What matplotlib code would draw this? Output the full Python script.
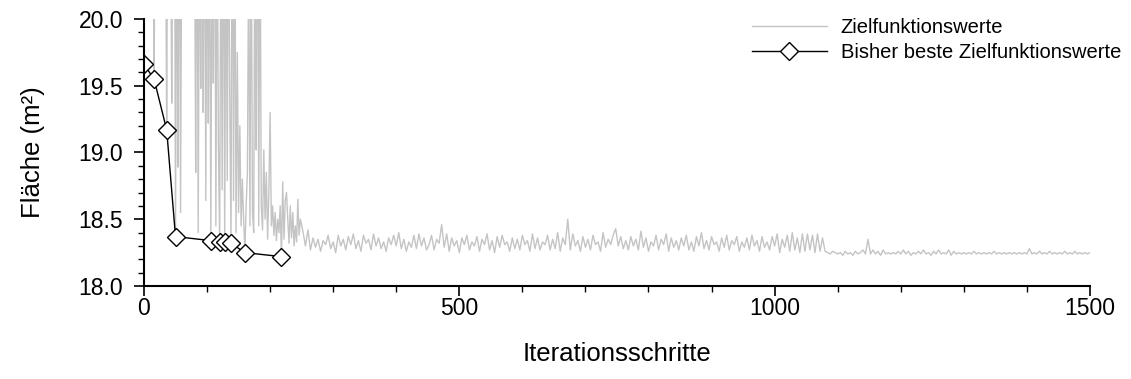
import numpy as np
import matplotlib
matplotlib.use('Agg')
import matplotlib.pyplot as plt
from matplotlib.ticker import MultipleLocator, FormatStrFormatter

plt.rcParams['font.family'] = ['Liberation Sans', 'DejaVu Sans']

# Zielfunktionswerte, iterations 0..248 (every 2nd iteration); values > 20 are clipped in the plot
zf_early = [
    19.66, 21.5, 22.0, 21.0, 22.0, 21.5, 22.0, 21.0, 19.55, 21.0,
    22.0, 21.5, 22.0, 21.0, 22.0, 21.5, 22.0, 21.0, 19.17, 21.5,
    22.0, 21.0, 19.37, 21.0, 22.0, 18.37, 21.0, 18.89, 21.5, 18.55,
    21.0, 22.0, 21.5, 22.0, 21.0, 22.0, 21.5, 22.0, 21.0, 22.0,
    21.0, 18.85, 21.5, 18.40, 21.0, 19.48, 21.0, 19.30, 21.5, 18.64,
    21.0, 19.22, 21.0, 18.34, 21.0, 19.52, 21.5, 18.45, 21.0, 19.07,
    18.33, 21.0, 18.72, 21.5, 18.33, 21.0, 18.79, 21.0, 19.40, 18.32,
    21.5, 18.64, 21.0, 18.40, 19.75, 18.55, 19.20, 18.45, 18.80, 18.50,
    18.25, 18.60, 18.85, 20.50, 18.45, 21.0, 18.55, 18.40, 21.0, 19.02,
    21.5, 18.45, 21.0, 18.60, 18.42, 19.02, 18.50, 18.85, 18.35, 18.70,
    19.30, 18.45, 18.60, 18.38, 18.55, 18.34, 18.50, 18.40, 18.60, 18.22,
    18.78, 18.35, 18.64, 18.70, 18.50, 18.32, 18.60, 18.36, 18.55, 18.30,
    18.45, 18.33, 18.65, 18.38, 18.50,
]

# Zielfunktionswerte, iterations 252..1500 (every 4th iteration)
zf_252_448 = [
    18.41, 18.30, 18.42, 18.27, 18.36, 18.29, 18.35, 18.26, 18.34, 18.31,
    18.38, 18.28, 18.33, 18.25, 18.38, 18.30, 18.35, 18.27, 18.37, 18.31,
    18.39, 18.28, 18.34, 18.26, 18.38, 18.32, 18.35, 18.27, 18.39, 18.30,
    18.36, 18.28, 18.33, 18.26, 18.36, 18.31, 18.38, 18.30, 18.40, 18.28,
    18.35, 18.26, 18.33, 18.29, 18.38, 18.28, 18.39, 18.30, 18.36, 18.27,
]
zf_452_648 = [
    18.31, 18.38, 18.27, 18.35, 18.32, 18.46, 18.29, 18.39, 18.26, 18.36,
    18.30, 18.34, 18.25, 18.36, 18.31, 18.38, 18.27, 18.33, 18.30, 18.37,
    18.26, 18.35, 18.31, 18.39, 18.27, 18.34, 18.25, 18.37, 18.29, 18.38,
    18.31, 18.33, 18.26, 18.36, 18.28, 18.35, 18.27, 18.38, 18.31, 18.34,
    18.26, 18.39, 18.28, 18.36, 18.27, 18.33, 18.31, 18.38, 18.27, 18.35,
]
zf_652_848 = [
    18.28, 18.40, 18.26, 18.36, 18.31, 18.50, 18.27, 18.39, 18.30, 18.34,
    18.26, 18.37, 18.29, 18.35, 18.27, 18.38, 18.31, 18.33, 18.26, 18.40,
    18.29, 18.35, 18.31, 18.38, 18.43, 18.30, 18.37, 18.28, 18.34, 18.27,
    18.37, 18.30, 18.35, 18.27, 18.41, 18.29, 18.36, 18.26, 18.33, 18.30,
    18.38, 18.27, 18.35, 18.31, 18.39, 18.26, 18.36, 18.29, 18.34, 18.27,
]
zf_852_1048 = [
    18.36, 18.30, 18.38, 18.27, 18.33, 18.26, 18.37, 18.30, 18.40, 18.28,
    18.34, 18.27, 18.37, 18.31, 18.33, 18.26, 18.36, 18.29, 18.38, 18.27,
    18.34, 18.31, 18.37, 18.26, 18.33, 18.29, 18.36, 18.27, 18.38, 18.30,
    18.34, 18.26, 18.37, 18.29, 18.33, 18.27, 18.37, 18.30, 18.39, 18.25,
    18.35, 18.29, 18.38, 18.26, 18.40, 18.27, 18.36, 18.25, 18.39, 18.26,
]
zf_1052_1248 = [
    18.39, 18.27, 18.38, 18.25, 18.39, 18.26, 18.36, 18.26, 18.25, 18.24,
    18.26, 18.25, 18.24, 18.25, 18.23, 18.26, 18.24, 18.25, 18.23, 18.26,
    18.24, 18.25, 18.27, 18.24, 18.35, 18.24, 18.27, 18.24, 18.26, 18.23,
    18.27, 18.24, 18.25, 18.24, 18.25, 18.24, 18.26, 18.24, 18.27, 18.24,
    18.26, 18.23, 18.25, 18.24, 18.26, 18.24, 18.27, 18.24, 18.25, 18.23,
]
zf_1252_1500 = [
    18.26, 18.24, 18.27, 18.24, 18.25, 18.24, 18.27, 18.23, 18.26, 18.24,
    18.25, 18.24, 18.25, 18.24, 18.25, 18.24, 18.26, 18.24, 18.25, 18.24,
    18.25, 18.24, 18.25, 18.24, 18.26, 18.24, 18.25, 18.24, 18.25, 18.24,
    18.25, 18.24, 18.25, 18.24, 18.25, 18.24, 18.25, 18.24, 18.28, 18.24,
    18.25, 18.24, 18.26, 18.24, 18.25, 18.24, 18.26, 18.24, 18.25, 18.24,
    18.25, 18.24, 18.26, 18.24, 18.25, 18.24, 18.26, 18.24, 18.25, 18.24,
    18.25, 18.24, 18.25,
]

# Bisher beste Zielfunktionswerte
best_iter = [0, 16, 36, 50, 106, 120, 128, 138, 160, 218]
best_val = [19.66, 19.55, 19.17, 18.37, 18.34, 18.33, 18.33, 18.32, 18.25, 18.22]

zf_late = zf_252_448 + zf_452_648 + zf_652_848 + zf_852_1048 + zf_1052_1248 + zf_1252_1500
it_early = 2 * np.arange(len(zf_early))
it_late = 252 + 4 * np.arange(len(zf_late))
iters = np.concatenate([it_early, it_late])
zf = np.array(zf_early + zf_late)

fig = plt.figure(figsize=(11.31, 3.79), dpi=100)
ax = fig.add_axes([0.1273, 0.2454, 0.8364, 0.7045])

ax.plot(iters, zf, color='#c4c4c4', lw=1.0, label='Zielfunktionswerte')
ax.plot(best_iter, best_val, color='black', lw=1.0, marker='D', markersize=9.5,
        markerfacecolor='white', markeredgecolor='black', markeredgewidth=1.0,
        label='Bisher beste Zielfunktionswerte')

ax.set_xlim(0, 1500)
ax.set_ylim(18.0, 20.0)
ax.xaxis.set_major_locator(MultipleLocator(500))
ax.xaxis.set_minor_locator(MultipleLocator(100))
ax.yaxis.set_major_locator(MultipleLocator(0.5))
ax.yaxis.set_minor_locator(MultipleLocator(0.1))
ax.yaxis.set_major_formatter(FormatStrFormatter('%.1f'))

for side in ['top', 'right']:
    ax.spines[side].set_visible(False)
for side in ['left', 'bottom']:
    ax.spines[side].set_linewidth(1.5)

ax.tick_params(axis='both', which='major', direction='out', width=1.2, labelsize=16.5)
ax.tick_params(axis='x', which='major', length=7, pad=1)
ax.tick_params(axis='y', which='major', length=7, pad=8)
ax.tick_params(axis='both', which='minor', direction='out', width=1.0, length=4.5)

ax.set_xlabel('Iterationsschritte', fontsize=18.5, labelpad=16)
ax.set_ylabel('Fläche (m²)', fontsize=18.5, labelpad=24)

leg = ax.legend(loc='upper left', bbox_to_anchor=(752 / 1131, 1 - 18 / 379),
                bbox_transform=fig.transFigure, frameon=False, fontsize=14.5,
                handlelength=3.7, numpoints=1, labelspacing=0.32, handletextpad=0.7,
                borderpad=0, borderaxespad=0)

fig.savefig('out.png', dpi=100)
